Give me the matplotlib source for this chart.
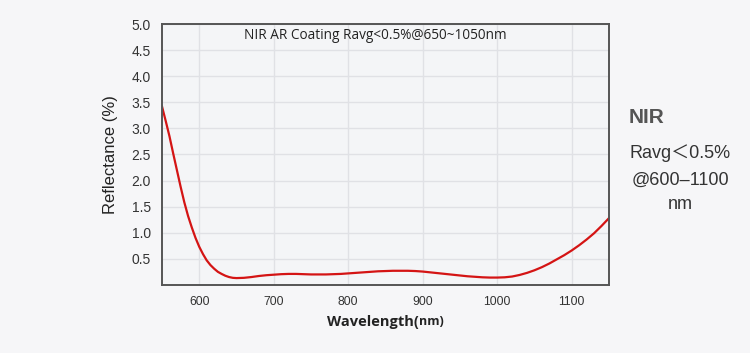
import matplotlib.pyplot as plt

# wavelength (nm) and reflectance (%)
wavelength = [550, 555, 560, 565, 570, 575, 580, 585, 590, 595, 600, 605, 610, 615, 620,
              625, 630, 635, 640, 645, 650, 660, 670, 680, 690,
              700, 710, 720, 730, 740, 750, 760, 770, 780, 790, 800, 810, 820, 830, 840,
              850, 860, 870, 880, 890, 900, 910, 920, 930, 940, 950, 960, 970, 980, 990,
              1000, 1010, 1020, 1030, 1040, 1050, 1060, 1070, 1080, 1090, 1100, 1110,
              1120, 1130, 1140, 1150]
reflectance = [3.42, 3.14, 2.85, 2.52, 2.2, 1.88, 1.58, 1.32, 1.1, 0.9, 0.73, 0.59, 0.47,
               0.38, 0.31, 0.25, 0.21, 0.175, 0.15, 0.135, 0.13, 0.135, 0.15,
               0.17, 0.185, 0.195, 0.205, 0.21, 0.21, 0.205, 0.2, 0.2, 0.2, 0.205, 0.21,
               0.22, 0.23, 0.24, 0.25, 0.26, 0.265, 0.27, 0.27, 0.27, 0.265, 0.255, 0.24,
               0.225, 0.21, 0.195, 0.18, 0.165, 0.155, 0.145, 0.14, 0.14, 0.145, 0.16, 0.19,
               0.23, 0.28, 0.34, 0.41, 0.49, 0.57, 0.66, 0.76, 0.87, 0.99, 1.13, 1.28]
x_ticks = [600, 700, 800, 900, 1000, 1100]
y_ticks = [0.5, 1.0, 1.5, 2.0, 2.5, 3.0, 3.5, 4.0, 4.5, 5.0]
title = "NIR AR Coating Ravg<0.5%@650~1050nm"
side_lines = ["Ravg\uff1c0.5%", "@600\u20131100", "nm"]

bg = "#f6f6f8"
fig = plt.figure(figsize=(7.5, 3.53), dpi=100, facecolor=bg)
ax = fig.add_axes([0.216, 0.193, 0.596, 0.739], facecolor="#f4f5f7")

ax.plot(wavelength, reflectance, color="#d41414", lw=1.6)

ax.set_xlim(550, 1150)
ax.set_ylim(0, 5.0)
ax.set_xticks(x_ticks)
ax.set_yticks(y_ticks)
ax.set_yticklabels(["%.1f" % v for v in y_ticks])
ax.tick_params(length=0, colors="#333333", pad=8)
ax.tick_params(axis="y", labelsize=10)
ax.tick_params(axis="x", labelsize=8.8)
for lab in ax.get_xticklabels() + ax.get_yticklabels():
	lab.set_family("Liberation Sans")
ax.grid(True, color="#e0e1e5", lw=1)
ax.set_axisbelow(True)
for s in ax.spines.values():
	s.set_color("#555555")
	s.set_linewidth(1.4)

ax.set_ylabel("Reflectance (%)", family="Liberation Sans", fontsize=12, color="#222222", labelpad=10)
fig.text(0.559, 0.088, "Wavelength(", family="Open Sans", fontweight="bold", fontsize=10.5,
	 ha="right", va="center", color="#222222")
fig.text(0.559, 0.088, "nm)", family="Open Sans", fontweight="bold", fontsize=9,
	 ha="left", va="center", color="#222222")
ax.text(0.477, 0.955, title, transform=ax.transAxes, family="Open Sans", fontsize=9.8,
	ha="center", va="center", color="#222222")

fig.text(0.838, 0.668, "NIR", family="Liberation Sans", fontweight="bold", fontsize=15,
	 ha="left", va="center", color="#555555")
ys = [0.566, 0.49, 0.42]
for t, y in zip(side_lines, ys):
	fig.text(0.907, y, t, family=["Liberation Sans", "Noto Sans CJK SC"], fontsize=13,
		 ha="center", va="center", color="#333333")

fig.savefig("out.png", dpi=100, facecolor=bg)
